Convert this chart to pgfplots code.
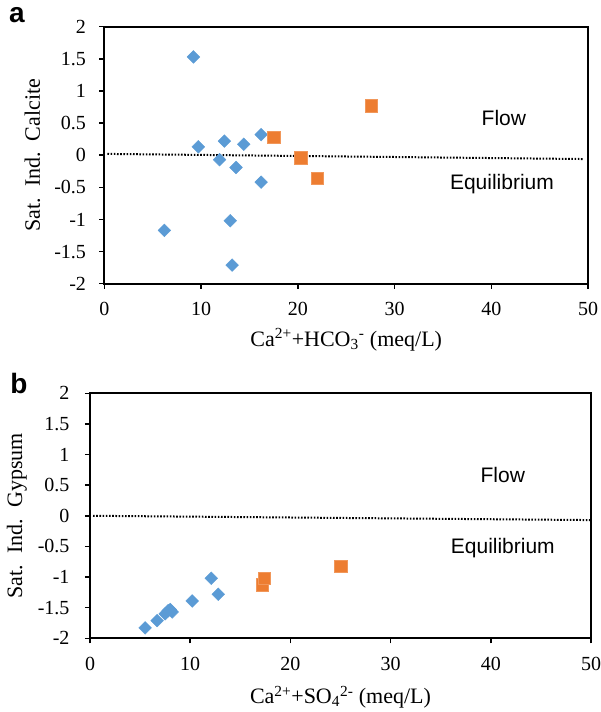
\documentclass[border=0pt]{standalone}
\usepackage{fontspec}
\setmainfont{Liberation Serif}
\newfontfamily\arial{Liberation Sans}
\usepackage{pgfplots}
\pgfplotsset{compat=1.18}
\definecolor{eblue}{HTML}{5B9BD5}
\definecolor{eorange}{HTML}{ED7D31}
\begin{document}
\begin{tikzpicture}[x=1pt,y=1pt]
\path[use as bounding box] (0,0) rectangle (600,712);
\begin{axis}[scale only axis, xmin=0, xmax=50, ymin=-2, ymax=2,
    width=483.5pt, height=257pt, at={(104.5pt,428.3pt)}, anchor=south west,
    xtick={0,10,20,30,40,50}, xticklabels={0,10,20,30,40,50},
    ytick={-2,-1.5,-1,-0.5,0,0.5,1,1.5,2},
    yticklabels={-2,-1.5,-1,-0.5,0,0.5,1,1.5,2},
    tick align=outside, tick pos=left, major tick length=5pt,
    major tick style={black, line width=1.5pt},
    xticklabel style={font=\fontsize{20}{20}\selectfont, yshift=-10pt},
    yticklabel style={font=\fontsize{20}{20}\selectfont, xshift=-10pt},
    xlabel={Ca\textsuperscript{2+}+HCO\textsubscript{3}\textsuperscript{-} (meq/L)},
    ylabel={Sat.\ \ Ind.\ \ Calcite},
    xlabel style={font=\fontsize{22}{22}\selectfont, at={(axis description cs:0.5,-0.218)}, anchor=center},
    ylabel style={font=\fontsize{22}{22}\selectfont, at={(axis description cs:-0.149,0.5)}, anchor=center},
    clip=false]
\addplot[black, line width=2pt, dash pattern=on 1.6pt off 1.6pt, no marks] coordinates {(0.3,0.02) (49.6,-0.06)};
\addplot[only marks, mark=square*, mark size=4.5pt, mark options={rotate=45, fill=eblue, draw=eblue}] coordinates {
(9.2,1.53) (9.7,0.13) (12.4,0.22) (14.4,0.17) (16.2,0.32)
(11.9,-0.07) (13.6,-0.19) (16.2,-0.42) (13.0,-1.02) (6.2,-1.17) (13.2,-1.71)};
\addplot[only marks, mark=square*, mark size=6.3pt, mark options={fill=eorange, draw=eorange!80!white}] coordinates {(17.5,0.28) (20.3,-0.04) (22.0,-0.36) (27.6,0.77)};
\node[font=\arial\fontsize{21}{21}\selectfont] at (axis cs:41.3,0.58) {Flow};
\node[font=\arial\fontsize{21}{21}\selectfont] at (axis cs:41.1,-0.45) {Equilibrium};
\draw[line width=2pt] (rel axis cs:0,0) rectangle (rel axis cs:1,1);
\end{axis}
\begin{axis}[scale only axis, xmin=0, xmax=50, ymin=-2, ymax=2,
    width=501pt, height=245pt, at={(90pt,73.7pt)}, anchor=south west,
    xtick={0,10,20,30,40,50}, xticklabels={0,10,20,30,40,50},
    ytick={-2,-1.5,-1,-0.5,0,0.5,1,1.5,2},
    yticklabels={-2,-1.5,-1,-0.5,0,0.5,1,1.5,2},
    tick align=outside, tick pos=left, major tick length=5pt,
    major tick style={black, line width=1.5pt},
    xticklabel style={font=\fontsize{20}{20}\selectfont, yshift=-10pt},
    yticklabel style={font=\fontsize{20}{20}\selectfont, xshift=-12pt},
    xlabel={Ca\textsuperscript{2+}+SO\textsubscript{4}\textsuperscript{2-} (meq/L)},
    ylabel={Sat.\ \ Ind.\ \ Gypsum},
    xlabel style={font=\fontsize{22}{22}\selectfont, at={(axis description cs:0.5,-0.241)}, anchor=center},
    ylabel style={font=\fontsize{22}{22}\selectfont, at={(axis description cs:-0.146,0.5)}, anchor=center},
    clip=false]
\addplot[black, line width=2pt, dash pattern=on 1.6pt off 1.6pt, no marks] coordinates {(0.3,0.0) (50,-0.07)};
\addplot[only marks, mark=square*, mark size=4.5pt, mark options={rotate=45, fill=eblue, draw=eblue}] coordinates {
(5.5,-1.83) (6.7,-1.71) (7.5,-1.60) (7.8,-1.55) (8.2,-1.57) (8.0,-1.53)
(10.2,-1.39) (12.1,-1.02) (12.8,-1.28)};
\addplot[only marks, mark=square*, mark size=6.3pt, mark options={fill=eorange, draw=eorange!80!white}] coordinates {(17.2,-1.12) (17.4,-1.02) (25.0,-0.82)};
\node[font=\arial\fontsize{21}{21}\selectfont] at (axis cs:41.2,0.67) {Flow};
\node[font=\arial\fontsize{21}{21}\selectfont] at (axis cs:41.2,-0.53) {Equilibrium};
\draw[line width=2pt] (rel axis cs:0,0) rectangle (rel axis cs:1,1);
\end{axis}
\node[font=\arial\bfseries\fontsize{28}{28}\selectfont] at (17,697) {a};
\node[font=\arial\bfseries\fontsize{28}{28}\selectfont] at (19,329) {b};
\end{tikzpicture}
\end{document}
